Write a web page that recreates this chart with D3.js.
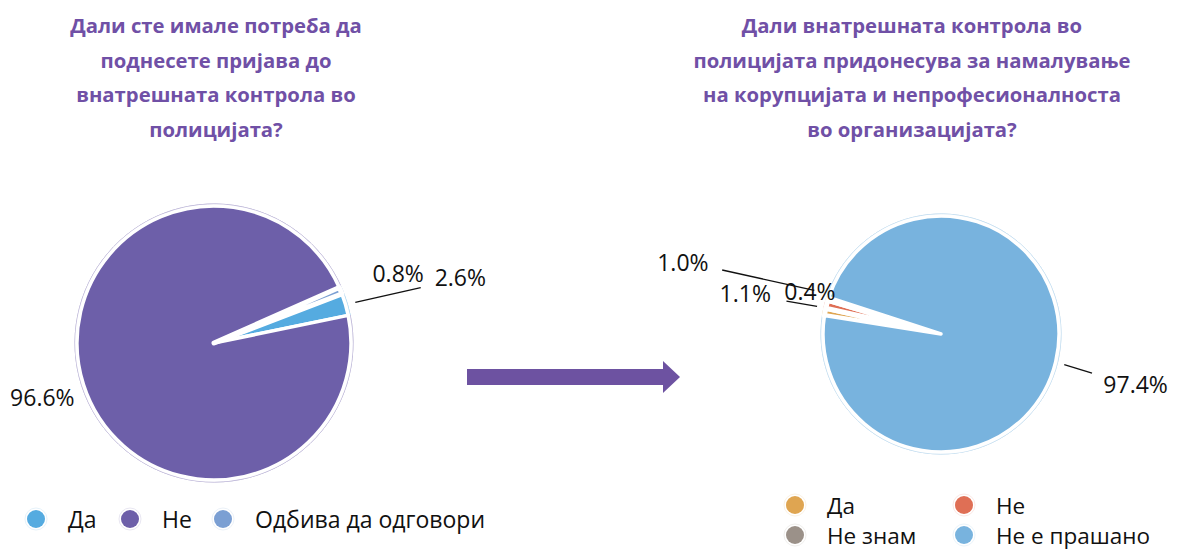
<!DOCTYPE html>
<html lang="mk">
<head>
<meta charset="UTF-8">
<title>Внатрешна контрола</title>
<script src="https://cdn.jsdelivr.net/npm/d3@7"></script>
<style>
  body { margin: 0; background: #fff; }
  text { font-family: "Open Sans", "Noto Sans", sans-serif; }
  .title { font-weight: 700; fill: #7050a6; font-size: 20.3px; }
  .lbl { font-size: 23px; fill: #111; }
  .leg { font-size: 23px; fill: #111; }
</style>
</head>
<body>
<div id="fig"></div>
<script>
// left chart data
const leftTitle = ["Дали сте имале потреба да", "поднесете пријава до", "внатрешната контрола во", "полицијата?"]
const leftCats = ["Да", "Не", "Одбива да одговори"]
const leftValues = [2.6, 96.6, 0.8]
const leftColors = ["#55abe0", "#6d5fa9", "#7b9fd3"]

// right chart data
const rightTitle = ["Дали внатрешната контрола во", "полицијата придонесува за намалување", "на корупцијата и непрофесионалноста", "во организацијата?"]
const rightCats = ["Да", "Не", "Не знам", "Не е прашано"]
const rightValues = [1.0, 1.1, 0.4, 97.4]
const rightColors = ["#dfa551", "#df6f55", "#9b9189", "#78b3de"]

const W = 1178, H = 551
const svg = d3.select("#fig").append("svg")
    .attr("width", W).attr("height", H)

const fmt = d3.format(".1f")

// label placement: polar (radius, angle deg) from pie centre, optional leader line
function drawPie(opt) {
    const g = svg.append("g").attr("transform", `translate(${opt.cx},${opt.cy})`)
    const pie = d3.pie().sort(null).value(d => d)
        .startAngle(opt.start * Math.PI / 180)
        .endAngle((opt.start + 360) * Math.PI / 180)
    const arcs = pie(opt.values)
    const arc = d3.arc().innerRadius(0).outerRadius(opt.r)
    const ring = d3.arc().innerRadius(opt.r + 2).outerRadius(opt.r + 2)

    g.selectAll(".ring").data(arcs).enter().append("path")
        .attr("d", ring)
        .attr("fill", "none")
        .attr("stroke", (d, i) => d3.interpolateRgb(opt.colors[i], "#fff")(0.6))
        .attr("stroke-width", 1)
    g.selectAll(".slice").data(arcs).enter().append("path")
        .attr("d", arc)
        .attr("fill", (d, i) => opt.colors[i])
        .attr("stroke", "#fff")
        .attr("stroke-width", d => (d.endAngle - d.startAngle) < 0.1 ? 5 : 3.5)
        .attr("stroke-linejoin", "round")

    const pol = (R, a) => [R * Math.sin(a * Math.PI / 180), -R * Math.cos(a * Math.PI / 180)]
    arcs.forEach((d, i) => {
        const L = opt.labels[i]
        if (L.line) {
            const p0 = pol(L.line[0], L.line[1]), p1 = pol(L.line[2], L.line[3])
            g.append("line")
                .attr("x1", p0[0]).attr("y1", p0[1])
                .attr("x2", p1[0]).attr("y2", p1[1])
                .attr("stroke", "#111").attr("stroke-width", 1.3)
        }
        const p = pol(L.r, L.a)
        g.append("text").attr("class", "lbl")
            .attr("x", p[0]).attr("y", p[1])
            .attr("text-anchor", "middle")
            .attr("dominant-baseline", "central")
            .text(fmt(opt.values[i]) + "%")
    })
}

function drawTitle(lines, cx) {
    svg.append("g").selectAll("text").data(lines).enter().append("text")
        .attr("class", "title")
        .attr("x", cx)
        .attr("y", (d, i) => 33 + i * 34.5)
        .attr("text-anchor", "middle")
        .text(d => d)
}

function drawLegend(cats, colors, items, size) {
    const g = svg.append("g")
    cats.forEach((c, i) => {
        const it = items[i]
        g.append("circle").attr("cx", it[0]).attr("cy", it[1]).attr("r", 11)
            .attr("fill", "none").attr("stroke", d3.interpolateRgb(colors[i], "#fff")(0.85)).attr("stroke-width", 1)
        g.append("circle").attr("cx", it[0]).attr("cy", it[1]).attr("r", 9)
            .attr("fill", colors[i])
        g.append("text").attr("class", "leg")
            .attr("x", it[0] + 32).attr("y", it[1])
            .attr("dominant-baseline", "central")
            .style("font-size", size + "px")
            .text(c)
    })
}

drawTitle(leftTitle, 216)
drawTitle(rightTitle, 912)

drawPie({
    cx: 214, cy: 343, r: 137, start: 69, values: leftValues, colors: leftColors,
    labels: [
        {r: 255, a: 75, line: [147, 74, 214, 75]},
        {r: 180, a: 252.5},
        {r: 197, a: 69.2}
    ]
})

drawPie({
    cx: 941, cy: 334, r: 118, start: 279, values: rightValues, colors: rightColors,
    labels: [
        {r: 268, a: 285.6, line: [228, 286.3, 134, 289]},
        {r: 200, a: 281.8, line: [158, 282, 127, 282.6]},
        {r: 138, a: 288.2},
        {r: 201, a: 104.5, line: [127, 104, 156, 104.5]}
    ]
})

// arrow between the charts
const arrowPts = [[467, 369], [663, 369], [663, 361], [680, 377], [663, 393], [663, 385], [467, 385]]
svg.append("path")
    .attr("d", d3.line()(arrowPts) + "Z")
    .attr("fill", "#6d52a1")

drawLegend(leftCats, leftColors, [[36, 519], [130, 519], [223, 519]], 23)
drawLegend(rightCats, rightColors, [[795, 505], [964, 505], [795, 535], [964, 535]], 22.5)
</script>
</body>
</html>
